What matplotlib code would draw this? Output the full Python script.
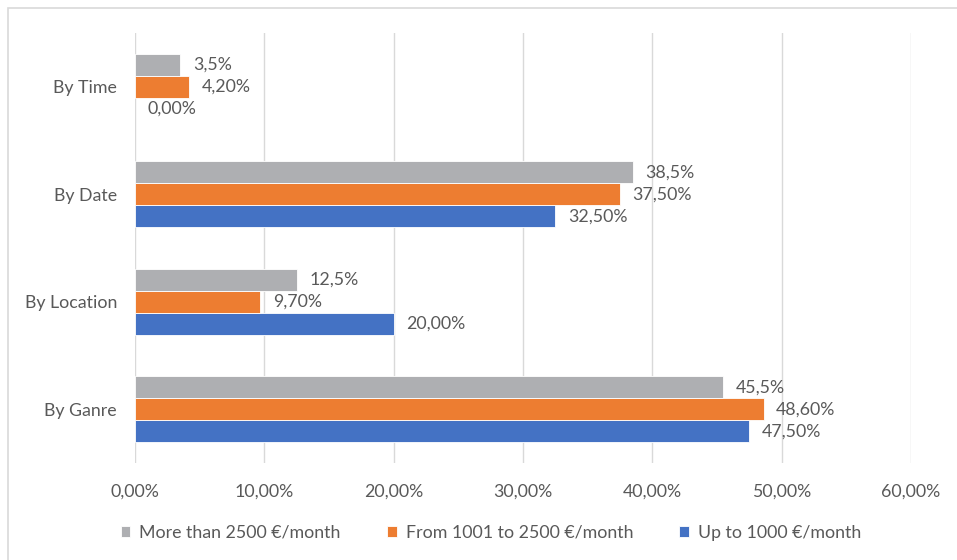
import numpy as np
import matplotlib.pyplot as plt
from matplotlib.patches import Rectangle

plt.rcParams['font.family'] = ['Lato', 'DejaVu Sans']

# categories, bottom to top
categories = ['By Ganre', 'By Location', 'By Date', 'By Time']

up_to_1000 = [47.5, 20.0, 32.5, 0.0]
from_1001_to_2500 = [48.6, 9.7, 37.5, 4.2]
more_than_2500 = [45.5, 12.5, 38.5, 3.5]

series_names = ['Up to 1000 €/month', 'From 1001 to 2500 €/month', 'More than 2500 €/month']
series_decimals = [2, 2, 1]
series_colors = ['#4472C4', '#ED7D31', '#AEAFB2']

x_ticks = [0, 10, 20, 30, 40, 50, 60]
x_tick_labels = ['0,00%', '10,00%', '20,00%', '30,00%', '40,00%', '50,00%', '60,00%']

text_color = '#595959'
grid_color = '#D9D9D9'
fs = 12.8


def pct_label(value, decimals):
  return ('{0:.%df}%%' % decimals).format(value).replace('.', ',')


fig = plt.figure(figsize=(9.57, 5.6), dpi=100)
ax = fig.add_axes([135/957, 1-463/560, (911-135)/957, (463-33)/560])

y = np.arange(len(categories))
h = 0.205
offsets = [-h, 0, h]
all_series = [up_to_1000, from_1001_to_2500, more_than_2500]

handles = []
for vals, name, dec, col, off in zip(all_series, series_names, series_decimals, series_colors, offsets):
  widths = [0.6 if v > 0 else 0 for v in vals]
  bars = ax.barh(y + off, vals, height=h, color=col, edgecolor='white', linewidth=widths, label=name, zorder=3)
  handles.append(bars)
  for yy, v in zip(y + off, vals):
    ax.annotate(pct_label(v, dec), (v, yy), xytext=(9, 0), textcoords='offset points',
                ha='left', va='center', fontsize=fs, color=text_color)

ax.set_xlim(0, 60)
ax.set_ylim(-0.5, len(categories) - 0.5)
ax.set_xticks(x_ticks)
ax.set_xticklabels(x_tick_labels)
ax.set_yticks(y)
ax.set_yticklabels(categories)
ax.tick_params(axis='both', length=0, labelsize=fs, labelcolor=text_color)
ax.tick_params(axis='y', pad=13)
ax.tick_params(axis='x', pad=15)
ax.grid(axis='x', color=grid_color, linewidth=1, zorder=0)
for s in ax.spines.values():
  s.set_visible(False)

# legend order: gray, orange, blue
leg = fig.legend(handles[::-1], series_names[::-1], loc='center', bbox_to_anchor=(491/957, 1-533/560),
                 ncol=3, frameon=False, fontsize=fs, labelcolor=text_color,
                 handlelength=0.55, handleheight=0.55, handletextpad=0.5, columnspacing=2.6)

# outer chart border
fig.patches.append(Rectangle((8/957, -0.1), 1.1, 1-8/560+0.1, transform=fig.transFigure,
                             fill=False, edgecolor=grid_color, linewidth=1.2))

fig.savefig('out.png', dpi=100)
